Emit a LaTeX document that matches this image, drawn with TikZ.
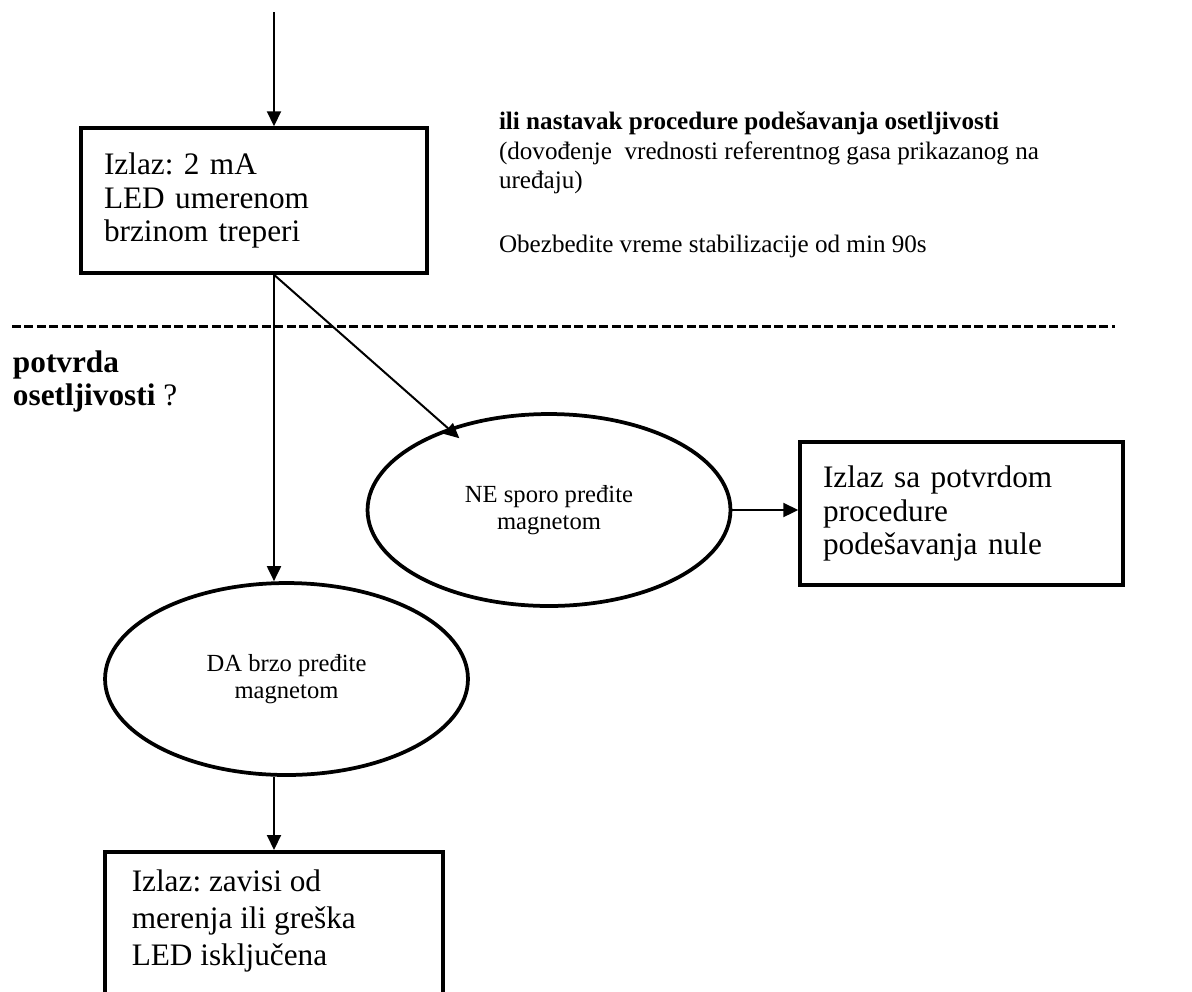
\documentclass[tikz,border=0pt]{standalone}
\usepackage{fontspec}
\setmainfont{Liberation Serif}
\usetikzlibrary{arrows.meta,shapes.geometric,positioning}
\frenchspacing

\begin{document}
\begin{tikzpicture}[->,>={Triangle[length=0.3cm,width=0.28cm]},x=0.02cm,y=-0.02cm,
                    line width=0.04cm,
                    box/.style={draw,rectangle,line width=0.07cm,align=left,inner xsep=0.46cm,
                                font=\fontsize{17.8}{19}\selectfont},
                    oval/.style={draw,ellipse,line width=0.075cm,align=center,inner sep=0pt,
                                 minimum width=7.26cm,minimum height=3.84cm,
                                 font=\fontsize{14}{15.5}\selectfont},
                    note/.style={inner sep=0pt,anchor=base west,
                                 font=\fontsize{14.3}{17}\selectfont}]
  \useasboundingbox (0,0) rectangle (1192,991);

  \coordinate (top) at (274,12);

  \node[box,minimum width=6.92cm,minimum height=2.9cm,text width=6cm] (box1) at (254,200.5)
       {Izlaz: 2 mA\\LED umerenom\\brzinom treperi};
  \node[oval] (ne) at (549,510) {NE sporo pređite\\magnetom};
  \node[oval] (da) at (286.5,679) {DA brzo pređite\\magnetom};
  \node[box,minimum width=6.46cm,minimum height=2.86cm,text width=5.54cm] (box3) at (961.5,513.5)
       {Izlaz sa potvrdom\\procedure\\podešavanja nule};
  \node[box,anchor=north,minimum width=6.76cm,minimum height=4cm] (box4) at (274,850) {};
  \node[box,draw=none,anchor=north west,inner sep=0pt,font=\fontsize{17.8}{21}\selectfont] (box4txt) at (130,868)
       {Izlaz: zavisi od\\merenja ili greška\\LED isključena};

  % tekst desno
  \node[note] (hint1) at (498,129) {\textbf{ili nastavak procedure podešavanja osetljivosti}};
  \node[note] (hint2) at (498,159) {(dovođenje\ \ vrednosti referentnog gasa prikazanog na};
  \node[note] (hint3) at (498,188) {uređaju)};
  \node[note] (stab) at (498,252) {Obezbedite vreme stabilizacije od min 90s};

  % isprekidana linija
  \coordinate (dl) at (12,326);
  \coordinate (dr) at (1115,326);
  \draw[-,line width=0.06cm,dash pattern=on 0.18cm off 0.07cm] (dl) -- (dr);
  \node[note,font=\fontsize{17.8}{19}\selectfont] (ask1) at (12,372) {\textbf{potvrda}};
  \node[note,font=\fontsize{17.8}{19}\selectfont] (ask2) at (12,405) {\textbf{osetljivosti} ?};

  \path (top) edge (box1.north -| top)
        (box1.south -| top) edge (da.north -| top)
                            edge[shorten >=-0.3cm] (ne.141)
        (ne.east) edge (ne.east -| box3.west)
        (da.south -| top) edge (box4.north);
\end{tikzpicture}
\end{document}
